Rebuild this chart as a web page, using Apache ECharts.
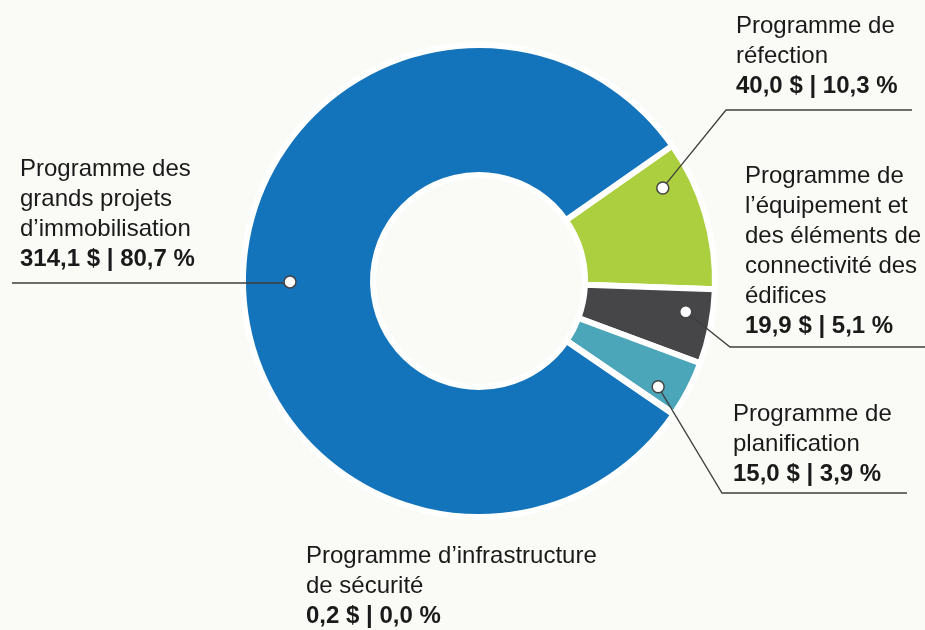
<!DOCTYPE html>
<html>
<head>
<meta charset="utf-8">
<script src="https://cdn.jsdelivr.net/npm/echarts@6/dist/echarts.min.js"></script>
<style>
  html, body { margin: 0; padding: 0; background: #fafaf6; }
  #chart { width: 925px; height: 630px; }
</style>
</head>
<body>
<div id="chart"></div>
<script>
// Data (millions $, share in %)
const programmes = [
  'Programme de\nréfection',
  'Programme de\nl’équipement et\ndes éléments de\nconnectivité des\nédifices',
  'Programme de\nplanification',
  'Programme d’infrastructure\nde sécurité',
  'Programme des\ngrands projets\nd’immobilisation'
];
const montants = [40.0, 19.9, 15.0, 0.2, 314.1];
const parts = [10.3, 5.1, 3.9, 0.0, 80.7];
const couleurs = ['#abcf3e', '#464648', '#4ca6ba', '#2a7fb8', '#1373bb'];

// layout of the donut and the callouts
const CX = 479, CY = 281, R = 236, R0 = 106, START = 35;
const callouts = [
  { x: 736, y: 11, frac: 0.22, r: 206, lineY: 110, x0: 726, x1: 912 },
  { x: 745, y: 161, frac: 0.35, r: 209, lineY: 347, x0: 730, x1: 925 },
  { x: 733, y: 399, frac: 0.73, r: 208, lineY: 493, x0: 722, x1: 907 },
  { x: 306, y: 541, frac: null },
  { x: 20, y: 154, frac: 0.5, r: 189, lineY: 283, x0: null, x1: 12 }
];

const total = montants.reduce((a, b) => a + b, 0);
const fmt = v => v.toFixed(1).replace('.', ',');

// where each marker sits, in axis values and in pixels
let cum = 0;
const anchors = montants.map((v, i) => {
  const c = callouts[i];
  const start = cum;
  cum += v;
  if (c.frac == null) return null;
  const val = start + c.frac * v;
  const a = (START - val / total * 360) * Math.PI / 180;
  return { value: [c.r, val], px: [CX + c.r * Math.cos(a), CY - c.r * Math.sin(a)] };
});

const chart = echarts.init(document.getElementById('chart'));

const txt = { fontFamily: 'Liberation Sans, Arial, sans-serif', fontSize: 24, lineHeight: 30, color: '#1a1a1a' };
const pieData = programmes.map((name, i) => ({ name: name, value: montants[i] }));

chart.setOption({
  backgroundColor: '#fafaf6',
  animation: false,
  polar: { center: [CX, CY], radius: R },
  angleAxis: { type: 'value', min: 0, max: total, startAngle: START, clockwise: true, show: false },
  radiusAxis: { type: 'value', min: 0, max: R, show: false },
  series: [
    {
      // the donut itself
      type: 'pie',
      z: 2,
      center: [CX, CY],
      radius: [R0, R],
      startAngle: START,
      silent: true,
      label: { show: false },
      labelLine: { show: false },
      itemStyle: { borderColor: '#ffffff', borderWidth: 6 },
      data: pieData.map((d, i) => Object.assign({}, d, { itemStyle: { color: couleurs[i] } }))
    },
    {
      // transparent copy on top, carrying the callouts
      type: 'pie',
      z: 3,
      center: [CX, CY],
      radius: [R0, R],
      startAngle: START,
      silent: true,
      avoidLabelOverlap: false,
      itemStyle: { color: 'rgba(0,0,0,0)', borderWidth: 0 },
      data: pieData.map((d, i) => Object.assign({}, d, { labelLine: { show: anchors[i] != null } })),
      label: {
        show: true,
        position: 'outside',
        formatter: p => {
          const i = p.dataIndex;
          const lines = programmes[i].split('\n').map(s => '{n|' + s + '}');
          lines.push('{b|' + fmt(montants[i]) + ' $ | ' + fmt(parts[i]) + ' %}');
          return lines.join('\n');
        },
        rich: {
          n: txt,
          b: Object.assign({}, txt, { fontWeight: 'bold' })
        }
      },
      labelLine: {
        show: true,
        lineStyle: { color: '#3f3f3f', width: 1.3 }
      },
      labelLayout: p => {
        const i = p.dataIndex;
        const c = callouts[i];
        const out = { x: c.x, y: c.y, align: 'left', verticalAlign: 'top' };
        const an = anchors[i];
        if (an) {
          const x0 = c.x0 == null ? an.px[0] - 1 : c.x0;
          out.labelLinePoints = [an.px, [x0, c.lineY], [c.x1, c.lineY]];
        }
        return out;
      }
    },
    {
      type: 'scatter',
      coordinateSystem: 'polar',
      symbol: 'circle',
      symbolSize: 12,
      z: 5,
      silent: true,
      itemStyle: { color: '#ffffff', borderColor: '#444446', borderWidth: 1.5, opacity: 1 },
      data: anchors.filter(a => a).map(a => a.value)
    }
  ]
});
</script>
</body>
</html>
